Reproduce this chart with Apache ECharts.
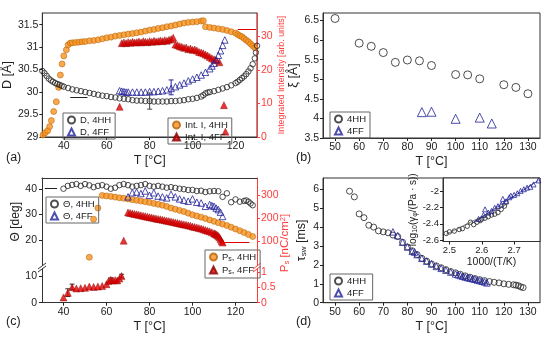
<!DOCTYPE html>
<html><head><meta charset="utf-8">
<script src="https://cdn.jsdelivr.net/npm/echarts@6/dist/echarts.min.js"></script>
<style>html,body{margin:0;padding:0;background:#fff}#c{width:550px;height:337px}</style>
</head><body><div id="c"></div>
<script>
// ---------- Panel (a) ----------
const aD_HH_T = [30,31,32,33,34,35,36,37,38,39,40,42,44,46,48,50,52,54,56,58,60,62,64,66,68,70,72,74,76,78,80,82,84,86,88,90,92,94,96,98,100,102,104,105,106,107,108,110,112,114,116,118,120,121,122,123,124,125,126,127,128,129,129.5,130];
const aD_HH   = [30.47,30.42,30.36,30.30,30.26,30.23,30.20,30.18,30.16,30.14,30.12,30.09,30.06,30.04,30.02,30.00,29.98,29.96,29.94,29.92,29.91,29.89,29.88,29.86,29.85,29.84,29.82,29.81,29.81,29.80,29.80,29.79,29.79,29.79,29.79,29.80,29.80,29.81,29.82,29.84,29.85,29.87,29.90,29.93,29.97,29.99,30.00,30.02,30.05,30.08,30.11,30.15,30.20,30.23,30.27,30.31,30.35,30.40,30.46,30.53,30.62,30.75,30.88,31.03];
const aD_FF_T = [66,67,68,69,70,72,74,76,78,80,82,84,86,88,90,92,94,96,98,100,102,104,106,108,109,110,111,112,113,114,115];
const aD_FF   = [30.03,30.02,30.01,30.0,30.0,30.0,30.0,30.0,30.0,30.01,30.01,30.02,30.03,30.05,30.08,30.12,30.16,30.20,30.25,30.29,30.33,30.38,30.44,30.52,30.58,30.64,30.72,30.82,30.92,31.04,31.16];
const aI_HH_T = [30.3,31.4,32.5,33.4,34.2,35.3,36.5,37.6,38.4,39.2,40,41.2,42,43,44,45.5,47,48.5,50,52,54,56,58,60,62,64,66,68,70,72,74,76,78,80,82,84,86,88,90,92,94,96,98,100,102,104,105,106,108,110,112,114,116,118,120,121,122,123,124,125,126,127,128,129];
const aI_HH   = [0.6,1.3,1.9,3.1,4.9,7.6,10.5,14.8,18.5,21.8,24.2,26,27.5,28.0,28.1,28.2,28.3,28.4,28.5,28.7,28.8,29.0,29.3,29.6,29.8,30.1,30.3,30.5,30.7,30.9,31.1,31.3,31.6,31.9,32.1,32.4,32.6,32.9,33.1,33.4,33.7,34.0,34.2,34.3,34.4,34.6,34.7,32.9,32.7,32.5,32.3,32.1,31.8,31.4,31.0,30.6,30.2,29.9,29.4,28.9,28.4,27.8,27.2,26.6];
const aI_FF_T = [66,67,68,69,70,71,72,73,74,75,76,77,78,79,80,81,82,83,84,85,86,87,88,89,90,91,92,93,94,95,96,97,98,99,100,101,102,103,104,105,106,107,108,109,110,111,112.5,114.6,115.3];
const aI_FF   = [9,28.0,28.2,28.0,28.3,28.1,28.4,28.2,28.3,28.5,28.2,28.6,28.4,28.3,28.6,28.4,28.7,28.5,28.6,28.8,28.6,28.9,28.7,29.0,29.2,29.6,27.6,27.4,27.1,26.9,26.6,26.7,26.2,26.4,26.0,26.1,25.8,25.4,25.2,25.0,24.6,24.3,23.9,23.5,23.2,22.9,22.3,9.5,1.6];
const aErr_HH = [[80,29.62,29.98]];
const aErr_FF = [[90,29.94,30.27]];
const aArrowD = [[51,29.89],[43,29.89]];
const aArrowI = [[121,32.1],[129.6,32.1]];
const aTicksX = [40,60,80,100,120];
const aTicksY = [29,29.5,30,30.5,31,31.5];
const aTicksY2 = [0,10,20,30];

// ---------- Panel (b) ----------
const bHH_T = [50,60,65,70,75,80,85,90,100,105,110,120,125,130];
const bHH   = [6.55,5.92,5.84,5.68,5.43,5.49,5.47,5.35,5.12,5.11,5.01,4.86,4.79,4.63];
const bFF_T = [86,90,100,110,115];
const bFF   = [4.16,4.17,3.99,4.02,3.87];
const bTicksX = [50,60,70,80,90,100,110,120,130];
const bTicksY = [3.5,4,4.5,5,5.5,6,6.5];

// ---------- Panel (c) ----------
const cThHH_T = [40,42,44,46,48,50,52,54,56,58,60,62,64,66,68,70,72,74,76,78,80,82,84,86,88,90,92,94,96,98,100,102,104,106,108,110,112,114,116,118,120,122,124,125,126,127,128];
const cThHH   = [40.1,41.2,41.6,41.9,41.2,41.9,41.4,40.7,41.2,41.5,40.9,40.1,40.5,41.5,41.9,41.5,40.9,41.2,41.5,41.9,41.2,40.9,41.2,40.9,40.5,40.7,40.4,40.1,39.9,39.6,39.6,39.2,39.3,38.8,39.1,39.2,39.1,36.9,38.3,34.8,35.9,35.0,35.3,35.5,35.0,34.3,33.6];
const cThFF_T = [70,72,74,76,78,80,82,84,86,88,90,92,94,96,98,100,102,104,106,108,109,110,111,112,113,114];
const cThFF   = [36.9,38.5,38.8,38.2,39.2,37.5,38.5,37.2,36.9,36.5,37.9,36.9,36.1,35.6,35.2,36.1,34.8,34.5,33.2,33.9,33.5,33.2,32.5,31.9,30.9,29.2];
const cPsHH_T = [52,54,56,58,60,62,64,66,68,70,72,74,76,78,80,82,84,86,88,90,92,94,96,98,100,102,104,106,108,110,112,114,116,118,120,122,124,126,128];
const cPsHH   = [32,195,243,297,295,293,290,287,285,282,279,276,273,270,267,263,259,255,250,243,238,233,228,221,214,209,204,198,192,186,180,174,168,161,153,146,138,130,121];
const cPsFF_T = [68,70,71,72,73,74,75,76,77,78,79,80,81,82,83,84,85,86,87,88,89,90,91,92,93,94,95,96,97,98,99,100,101,102,103,104,105,106,107,108,109,110,110.5,111,111.5,112,112.5,113,113.5,114];
const cPsFF   = [103,224,222,220,218,216,214,212,210,208,206,204,202,200,198,196,195,193,191,189,187,185,183,181,179,177,175,173,171,169,167,164,162,160,157,155,152,149,146,143,139,135,133,130,127,123,118,110,102,95];
const cPsFFlow_T = [40,42,44,46,48,50,52,54,56,58,60,61,62,63,64,65,66,67];
const cPsFFlow   = [0.17,0.32,0.5,0.46,0.47,0.48,0.52,0.51,0.52,0.54,0.60,0.70,0.74,0.72,0.73,0.72,0.78,0.86];
const cErrLow = [[42,0.2,0.45],[44,0.42,0.6],[62,0.66,0.8],[67,0.8,0.92]];
const cArrowTh = [[37,40.1],[31.3,40.1]];
const cArrowPs = [[113.5,97],[126.5,97]];
const cTicksX = [40,60,80,100,120];
const cTicksThUp = [20,30,40];
const cTicksThLow = [0,10];
const cTicksPsUp = [100,200,300];
const cTicksPsLow = [0,0.5,1];

// ---------- Panel (d) ----------
const dHH_T = [56,58,60,62,64,66,68,70,72,74,76,78,80,82,84,86,88,90,92,94,96,98,100,102,104,106,108,110,112,114,116,118,120,122,124,125,126,127,128];
const dHH   = [5.9,5.6,4.7,4.5,4.1,4.0,3.8,3.75,3.7,3.58,3.5,3.2,2.95,2.75,2.55,2.35,2.2,2.05,1.95,1.85,1.75,1.65,1.58,1.5,1.42,1.35,1.28,1.22,1.17,1.12,1.08,1.05,1.0,0.97,0.95,0.93,0.9,0.84,0.8];
const dFF_T = [74,76,78,80,82,83,84,86,88,90,92,94,96,98,100,101,102,103,104,105,106,107,108,109,110,111,112,113];
const dFF   = [3.75,3.55,3.2,2.95,2.72,2.68,2.55,2.35,2.2,2.05,1.92,1.82,1.72,1.62,1.52,1.48,1.44,1.40,1.36,1.33,1.30,1.27,1.24,1.20,1.17,1.14,1.10,1.05];
const dTicksX = [50,60,70,80,90,100,110,120,130];
const dTicksY = [0,1,2,3,4,5,6];
// inset
const iHH_x = [2.49,2.50,2.515,2.53,2.54,2.555,2.565,2.575,2.585,2.595,2.60,2.61,2.62,2.63,2.64,2.65,2.66,2.67,2.675];
const iHH_y = [-2.52,-2.50,-2.49,-2.47,-2.46,-2.43,-2.38,-2.41,-2.38,-2.36,-2.34,-2.33,-2.31,-2.29,-2.28,-2.26,-2.22,-2.18,-2.13];
const iFF_x = [2.59,2.605,2.61,2.62,2.63,2.64,2.65,2.66,2.665,2.675,2.685,2.69,2.70,2.71,2.72,2.73,2.74,2.75,2.76,2.775];
const iFF_y = [-2.34,-2.29,-2.22,-2.26,-2.24,-2.20,-2.18,-2.16,-2.09,-2.12,-2.07,-2.05,-2.04,-2.02,-1.99,-1.97,-1.95,-1.94,-1.91,-1.86];
const iFitFF = [[2.575,-2.38],[2.775,-1.86]];
const iFitHH = [[2.49,-2.53],[2.68,-2.15]];
const iTicksX = [2.5,2.6,2.7];
const iTicksY = [-2.6,-2.4,-2.2,-2];

// ---------- styling helpers ----------
const FONT = 'Liberation Sans, Arial, sans-serif';
const BLACK = '#222', BLUE = '#22229a', ORANGE = '#f7931e', ORANGE_B = '#b8620a', RED = '#e00000', RED_B = '#8a0000', RAXIS = '#ff3b3b';
const zip = (a, b) => a.map((v, i) => [v, b[i]]);
const lbl = (vals, color, size) => ({customValues: vals, fontSize: size || 10.5, color: color || BLACK, fontFamily: FONT, margin: 4});
const tck = (vals, color) => ({show: true, customValues: vals, length: 3, lineStyle: {color: color || BLACK}});
const line = (color) => ({show: true, onZero: false, lineStyle: {color: color || '#333', width: 1}});

function xAx(grid, min, max, ticks, name, extra) {
  return Object.assign({type: 'value', gridIndex: grid, min, max, axisLine: line(), axisTick: tck(ticks), axisLabel: lbl(ticks),
    splitLine: {show: false}, name: name, nameLocation: 'middle', nameGap: 17,
    nameTextStyle: {fontSize: 12.5, fontFamily: FONT, color: BLACK}}, extra || {});
}
function yAx(grid, min, max, ticks, name, extra) {
  return Object.assign({type: 'value', gridIndex: grid, min, max, axisLine: line(), axisTick: tck(ticks), axisLabel: lbl(ticks),
    splitLine: {show: false}, name: name, nameLocation: 'middle', nameRotate: 90, nameGap: 26,
    nameTextStyle: {fontSize: 12.5, fontFamily: FONT, color: BLACK}}, extra || {});
}
function errSeries(name, xi, yi, data, color) {
  return {type: 'custom', name: name + '_err', xAxisIndex: xi, yAxisIndex: yi, data: data, silent: true, z: 1,
    renderItem: (params, api) => {
      const x = api.value(0), p1 = api.coord([x, api.value(1)]), p2 = api.coord([x, api.value(2)]), w = 2.5;
      const st = {stroke: color, lineWidth: 1};
      return {type: 'group', children: [
        {type: 'line', shape: {x1: p1[0], y1: p1[1], x2: p2[0], y2: p2[1]}, style: st},
        {type: 'line', shape: {x1: p1[0] - w, y1: p1[1], x2: p1[0] + w, y2: p1[1]}, style: st},
        {type: 'line', shape: {x1: p2[0] - w, y1: p2[1], x2: p2[0] + w, y2: p2[1]}, style: st}]};
    }};
}
function arrow(pts, color) {
  return {silent: true, symbol: ['none', 'arrow'], symbolSize: [0, 8], label: {show: false},
    lineStyle: {color: color, width: 1, type: 'solid'}, itemStyle: {color: color}, animation: false,
    data: [[{coord: pts[0]}, {coord: pts[1]}]]};
}
const openCircle = {color: 'rgba(255,255,255,0)', borderColor: BLACK, borderWidth: 1};
const openTri = {color: 'rgba(255,255,255,0)', borderColor: BLUE, borderWidth: 1};
const orangeDot = {color: ORANGE, borderColor: ORANGE_B, borderWidth: 0.7};
const redTri = {color: RED, borderColor: RED_B, borderWidth: 0.5};
function sc(name, xi, yi, data, sym, size, style, extra) {
  return Object.assign({type: 'scatter', name, xAxisIndex: xi, yAxisIndex: yi, data, symbol: sym, symbolSize: size, itemStyle: style}, extra || {});
}
const legendBase = {orient: 'vertical', itemWidth: 7, itemHeight: 7, itemGap: 2, padding: [2, 4, 2, 4],
  borderColor: '#666', borderWidth: 1, textStyle: {fontSize: 9.5, fontFamily: FONT, color: BLACK,
  rich: {s: {fontSize: 7, fontFamily: FONT, color: BLACK, padding: [5, 0, 0, 0]}}}, selectedMode: false};

const option = {
  animation: false,
  backgroundColor: '#fff',
  textStyle: {fontFamily: FONT},
  grid: [
    {left: 42, top: 13, width: 215, height: 124, show: true, borderColor: '#333', borderWidth: 1},
    {left: 323, top: 13, width: 217, height: 125, show: true, borderColor: '#333', borderWidth: 1},
    {left: 42, top: 178, width: 215, height: 87.4},
    {left: 42, top: 269, width: 215, height: 33.7},
    {left: 323, top: 178, width: 217, height: 124.7, show: true, borderColor: '#333', borderWidth: 1},
    {left: 443, top: 178, width: 97, height: 63.5, show: true, borderColor: '#333', borderWidth: 1, backgroundColor: '#fff'}
  ],
  xAxis: [
    xAx(0, 30, 130, aTicksX, 'T [°C]'),
    xAx(1, 45, 135, bTicksX, 'T [°C]'),
    xAx(2, 30, 130, [], '', {position: 'top', axisLabel: {show: false}, axisTick: {show: false}}),
    xAx(3, 30, 130, cTicksX, 'T [°C]'),
    xAx(4, 45, 135, dTicksX, 'T [°C]'),
    xAx(5, 2.48, 2.78, iTicksX, '1000/(T/K)', {axisLabel: lbl(iTicksX, BLACK, 9.5), nameGap: 15, nameTextStyle: {fontSize: 10.5, fontFamily: FONT, color: BLACK}})
  ],
  yAxis: [
    yAx(0, 29, 31.76, aTicksY, 'D [Å]', {nameGap: 25}),
    yAx(0, 0, 37, aTicksY2, 'Integrated Intensity [arb. units]', {position: 'right', axisLine: line(RAXIS), axisTick: tck(aTicksY2, RAXIS), axisLabel: lbl(aTicksY2, RAXIS), nameGap: 18,
      nameTextStyle: {fontSize: 8.8, fontFamily: FONT, color: RAXIS}}),
    yAx(1, 3.5, 6.69, bTicksY, 'ξ [Å]', {nameGap: 22}),
    yAx(2, 10, 44.3, cTicksThUp, 'Θ [deg]', {position: 'left', nameGap: 20, axisLabel: {show: false}, nameTextStyle: {fontSize: 12, fontFamily: FONT, color: BLACK}}),
    yAx(2, -3, 372, cTicksPsUp, '', {position: 'right', axisLine: line(RAXIS), axisTick: tck(cTicksPsUp, RAXIS), axisLabel: lbl(cTicksPsUp, RAXIS)}),
    yAx(3, 0, 12.86, cTicksThLow, '', {position: 'left', axisLabel: {show: false}}),
    yAx(3, 0, 1.09, cTicksPsLow, '', {position: 'right', axisLine: line(RAXIS), axisTick: tck(cTicksPsLow, RAXIS), axisLabel: lbl(cTicksPsLow, RAXIS)}),
    yAx(4, 0, 6.6, dTicksY, 'τ{s|sw} [ms]', {nameGap: 15, nameTextStyle: {fontSize: 12.5, fontFamily: FONT, color: BLACK, rich: {s: {fontSize: 8, fontFamily: FONT, color: BLACK, verticalAlign: 'bottom'}}}}),
    yAx(5, -2.62, -1.83, iTicksY, 'log{s|10}(γ{s|φ}/(Pa · s))', {axisLabel: Object.assign(lbl(iTicksY, BLACK, 9.5), {formatter: v => String(v)}), nameGap: 24,
      nameTextStyle: {fontSize: 10, fontFamily: FONT, color: BLACK, rich: {s: {fontSize: 7, fontFamily: FONT, color: BLACK, verticalAlign: 'bottom'}}}})
  ],
  legend: [
    Object.assign({}, legendBase, {left: 63, top: 113, data: ['D, 4HH', 'D, 4FF']}),
    Object.assign({}, legendBase, {left: 168, top: 118, data: ['Int. I, 4HH', 'Int. I, 4FF']}),
    Object.assign({}, legendBase, {left: 330, top: 112, data: ['4HH', '4FF']}),
    Object.assign({}, legendBase, {left: 46, top: 197, data: ['Θ, 4HH', 'Θ, 4FF']}),
    Object.assign({}, legendBase, {left: 205, top: 250, data: ['Ps, 4HH', 'Ps, 4FF'], formatter: n => n.replace('Ps', 'P{s|s}')}),
    Object.assign({}, legendBase, {left: 330, top: 274, data: ['4HH ', '4FF ']})
  ],
  graphic: [
    {type: 'text', left: 6, top: 151, style: {text: '(a)', fontSize: 12.5, fontFamily: FONT, fill: BLACK}},
    {type: 'text', left: 296, top: 151, style: {text: '(b)', fontSize: 12.5, fontFamily: FONT, fill: BLACK}},
    {type: 'text', left: 6, top: 315, style: {text: '(c)', fontSize: 12.5, fontFamily: FONT, fill: BLACK}},
    {type: 'text', left: 296, top: 315, style: {text: '(d)', fontSize: 12.5, fontFamily: FONT, fill: BLACK}},
    {type: 'text', x: 285, y: 243, rotation: Math.PI / 2, style: {rich: {s: {fontSize: 7.5, fill: RAXIS, fontFamily: FONT, padding: [4, 0, 0, 0]}, p: {fontSize: 7.5, fill: RAXIS, fontFamily: FONT, padding: [0, 0, 5, 0]}},
      text: 'P{s|s} [nC/cm{p|2}]', fontSize: 11.5, fontFamily: FONT, fill: RAXIS, align: 'center', verticalAlign: 'middle'}},
    // axis break marks
    {type: 'line', shape: {x1: 38, y1: 269, x2: 46, y2: 263}, style: {stroke: '#333', lineWidth: 1}},
    {type: 'line', shape: {x1: 38, y1: 272, x2: 46, y2: 266}, style: {stroke: '#333', lineWidth: 1}},
    {type: 'line', shape: {x1: 253, y1: 269, x2: 261, y2: 263}, style: {stroke: RAXIS, lineWidth: 1}},
    {type: 'line', shape: {x1: 253, y1: 272, x2: 261, y2: 266}, style: {stroke: RAXIS, lineWidth: 1}}
  ],
  series: [
    // (a)
    sc('Int. I, 4HH', 0, 1, zip(aI_HH_T, aI_HH), 'circle', 6, orangeDot, {markLine: arrow(aArrowI, RED)}),
    sc('Int. I, 4FF', 0, 1, zip(aI_FF_T, aI_FF), 'triangle', 7, redTri),
    sc('D, 4HH', 0, 0, zip(aD_HH_T, aD_HH), 'circle', 5.5, openCircle, {markLine: arrow(aArrowD, BLACK)}),
    sc('D, 4FF', 0, 0, zip(aD_FF_T, aD_FF), 'triangle', 6.5, openTri),
    errSeries('a1', 0, 0, aErr_HH, '#444'),
    errSeries('a2', 0, 0, aErr_FF, BLUE),
    // (b)
    sc('4HH', 1, 2, zip(bHH_T, bHH), 'circle', 8, openCircle),
    sc('4FF', 1, 2, zip(bFF_T, bFF), 'triangle', 9, openTri),
    // (c)
    sc('Ps, 4HH', 2, 4, zip(cPsHH_T, cPsHH), 'circle', 6, orangeDot),
    sc('Ps, 4FF', 2, 4, zip(cPsFF_T, cPsFF), 'triangle', 7, redTri, {markLine: arrow(cArrowPs, RED)}),
    sc('Ps, 4FF', 3, 6, zip(cPsFFlow_T, cPsFFlow), 'triangle', 7, redTri),
    errSeries('c1', 3, 6, cErrLow, '#333'),
    sc('Θ, 4HH', 2, 3, zip(cThHH_T, cThHH), 'circle', 5.5, openCircle, {markLine: arrow(cArrowTh, BLACK)}),
    sc('Θ, 4FF', 2, 3, zip(cThFF_T, cThFF), 'triangle', 6.5, openTri),
    // (d)
    sc('4HH ', 4, 7, zip(dHH_T, dHH), 'circle', 6, openCircle),
    sc('4FF ', 4, 7, zip(dFF_T, dFF), 'triangle', 6.5, openTri),
    {type: 'line', xAxisIndex: 5, yAxisIndex: 8, data: iFitHH, symbol: 'none', lineStyle: {color: '#555', width: 0.8}, silent: true},
    {type: 'line', xAxisIndex: 5, yAxisIndex: 8, data: iFitFF, symbol: 'none', lineStyle: {color: BLUE, width: 0.8}, silent: true},
    sc('iHH', 5, 8, zip(iHH_x, iHH_y), 'circle', 4.5, openCircle),
    sc('iFF', 5, 8, zip(iFF_x, iFF_y), 'triangle', 5, openTri)
  ]
};
const chart = echarts.init(document.getElementById('c'), null, {renderer: 'canvas'});
chart.setOption(option);
// Tick labels of the broken Θ axis, positioned through the axes' own scales, drawn on a top layer
const thetaTickText = [];
[[3, cTicksThUp], [5, cTicksThLow]].forEach(([yi, vals]) => {
  vals.forEach(v => {
    const py = chart.convertToPixel({yAxisIndex: yi}, v);
    const px = chart.convertToPixel({xAxisIndex: 3}, 30);
    if (isFinite(py) && isFinite(px)) {
      thetaTickText.push({type: 'text', x: px - 5, y: py, z: 100, zlevel: 3, silent: true,
        style: {text: String(v), fontSize: 10.5, fontFamily: FONT, fill: BLACK, align: 'right', verticalAlign: 'middle'}});
    }
  });
});
option.graphic = option.graphic.concat(thetaTickText);
chart.setOption(option, true);
</script></body></html>
